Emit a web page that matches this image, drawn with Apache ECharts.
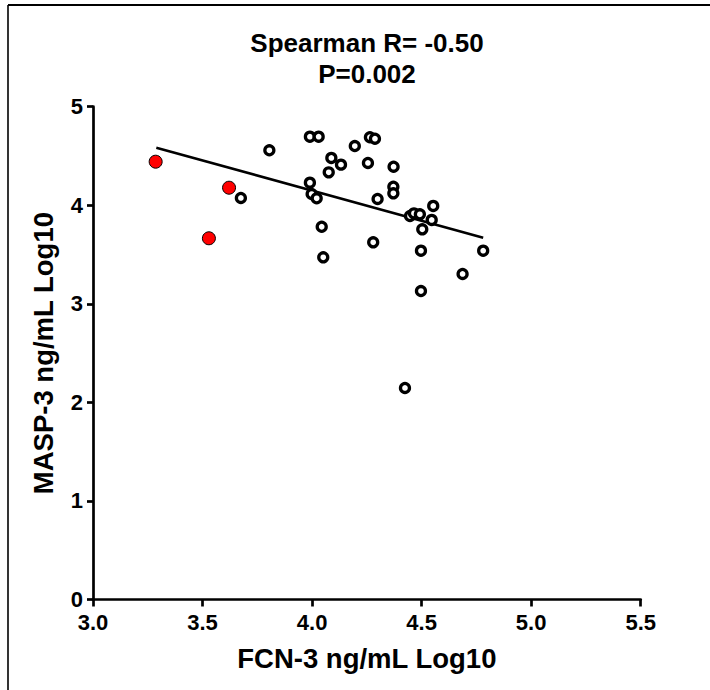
<!DOCTYPE html>
<html>
<head>
<meta charset="utf-8">
<script src="https://cdn.jsdelivr.net/npm/echarts@6/dist/echarts.min.js"></script>
<style>
html,body{margin:0;padding:0;background:#fff;}
#chart{width:710px;height:690px;}
</style>
</head>
<body>
<div id="chart"></div>
<script>
// Data
const titleLines = ['Spearman R= -0.50', 'P=0.002'];
const xAxisName = 'FCN-3 ng/mL Log10';
const yAxisName = 'MASP-3 ng/mL Log10';
const xTicks = [3.0, 3.5, 4.0, 4.5, 5.0, 5.5];
const yTicks = [0, 1, 2, 3, 4, 5];

// open (black ring) points: [FCN-3 log10, MASP-3 log10]
const openPoints = [
  [3.805, 4.558], [3.990, 4.696], [4.030, 4.696], [3.675, 4.074],
  [4.195, 4.601], [4.264, 4.690], [4.287, 4.675], [4.088, 4.480],
  [4.132, 4.412], [4.076, 4.334], [4.255, 4.429], [4.372, 4.391],
  [3.990, 4.229], [4.371, 4.188], [4.371, 4.121], [3.998, 4.114],
  [4.021, 4.071], [4.299, 4.064], [4.553, 3.993], [4.447, 3.891],
  [4.465, 3.918], [4.492, 3.908], [4.546, 3.851], [4.503, 3.756],
  [4.044, 3.782], [4.279, 3.624], [4.051, 3.472], [4.497, 3.539],
  [4.781, 3.539], [4.687, 3.303], [4.497, 3.130], [4.424, 2.146]
];
// red filled points
const redPoints = [
  [3.286, 4.442], [3.621, 4.178], [3.529, 3.665]
];
// regression line end points
const fitLine = [
  [3.289, 4.584], [4.781, 3.671]
];

const FONT = '"Liberation Sans", Arial, Helvetica, sans-serif';
const chart = echarts.init(document.getElementById('chart'), null, {renderer: 'svg'});

const option = {
  backgroundColor: '#fff',
  animation: false,
  title: {
    text: titleLines.join('\n'),
    left: 367,
    top: 27,
    padding: 0,
    textAlign: 'center',
    textStyle: {fontFamily: FONT, fontWeight: 'bold', fontSize: 26, lineHeight: 31, color: '#000'}
  },
  grid: {left: 93, right: 69.3, top: 106.7, bottom: 90.5, containLabel: false},
  xAxis: {
    type: 'value',
    min: xTicks[0], max: xTicks[xTicks.length - 1], interval: 0.5,
    name: xAxisName, nameLocation: 'middle', nameGap: 45,
    nameTextStyle: {fontFamily: FONT, fontWeight: 'bold', fontSize: 27.5, color: '#000'},
    axisLine: {onZero: false, lineStyle: {color: '#000', width: 2.7}},
    axisTick: {show: true, inside: false, length: 7, lineStyle: {color: '#000', width: 2.7}},
    axisLabel: {margin: 12, fontFamily: FONT, fontWeight: 'bold', fontSize: 22, color: '#000',
      formatter: v => v.toFixed(1)},
    splitLine: {show: false}
  },
  yAxis: {
    type: 'value',
    min: yTicks[0], max: yTicks[yTicks.length - 1], interval: 1,
    name: yAxisName, nameLocation: 'middle', nameGap: 36, nameRotate: 90,
    nameTextStyle: {fontFamily: FONT, fontWeight: 'bold', fontSize: 27.5, color: '#000'},
    axisLine: {show: true, onZero: false, lineStyle: {color: '#000', width: 2.7}},
    axisTick: {show: true, inside: false, length: 6, lineStyle: {color: '#000', width: 2.7}},
    axisLabel: {margin: 10, fontFamily: FONT, fontWeight: 'bold', fontSize: 22, color: '#000'},
    splitLine: {show: false}
  },
  graphic: [
    {type: 'line', shape: {x1: 8, y1: 5, x2: 712, y2: 5}, style: {stroke: '#000', lineWidth: 2}, silent: true},
    {type: 'line', shape: {x1: 8, y1: 5, x2: 8, y2: 692}, style: {stroke: '#000', lineWidth: 1.6}, silent: true}
  ],
  series: [
    {
      type: 'line', data: fitLine, showSymbol: false, symbol: 'none',
      lineStyle: {color: '#000', width: 2.5}, z: 1, silent: true
    },
    {
      type: 'scatter', data: openPoints, symbol: 'circle', symbolSize: 9,
      itemStyle: {color: '#fff', borderColor: '#000', borderWidth: 3.3, opacity: 1}, z: 3
    },
    {
      type: 'scatter', data: redPoints, symbol: 'circle', symbolSize: 13,
      itemStyle: {color: '#ff0000', borderColor: '#000', borderWidth: 1, opacity: 1}, z: 4
    }
  ]
};
chart.setOption(option);
</script>
</body>
</html>
